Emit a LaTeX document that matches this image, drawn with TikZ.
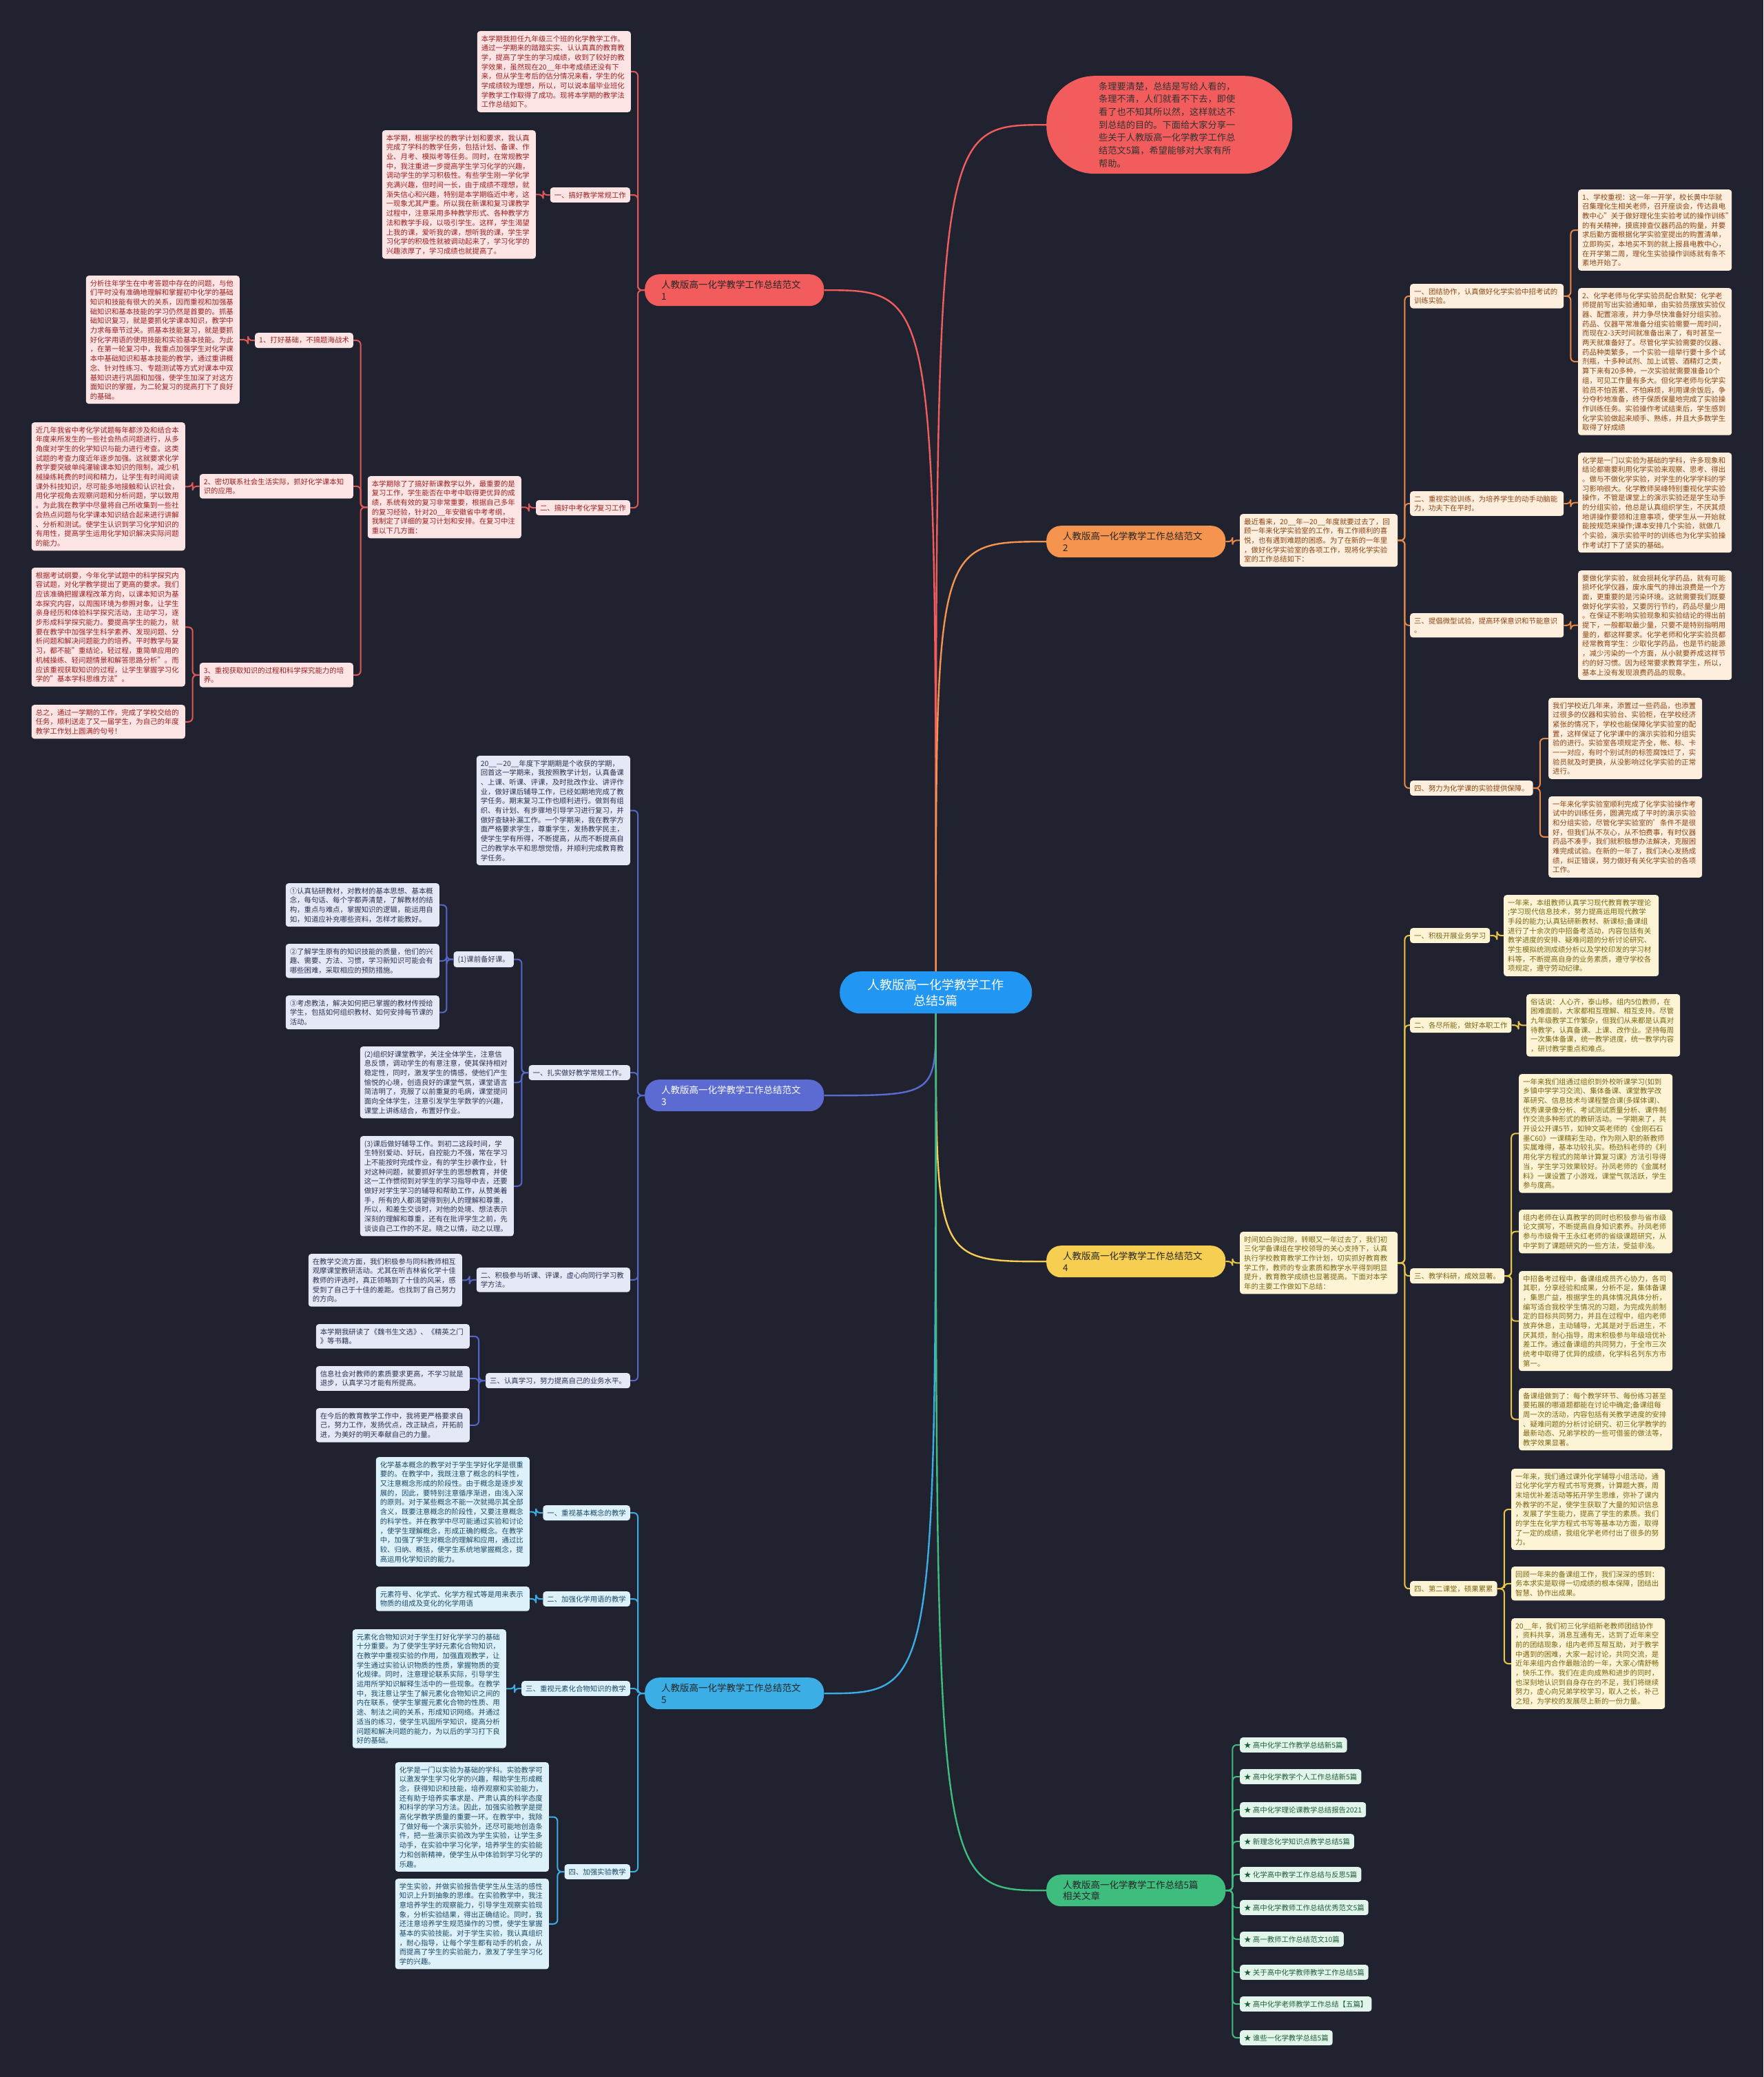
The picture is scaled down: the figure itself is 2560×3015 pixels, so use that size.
\documentclass[tikz,border=0pt]{standalone}
\usepackage{fontspec}
\setmainfont{Noto Sans CJK SC}
\definecolor{bg}{HTML}{20232F}
\definecolor{rN}{HTML}{F25C5C}\definecolor{rL}{HTML}{E25858}\definecolor{rF}{HTML}{FDE4E4}\definecolor{rT}{HTML}{9E1F1F}
\definecolor{oN}{HTML}{F5944F}\definecolor{oL}{HTML}{E8894A}\definecolor{oF}{HTML}{FEEEDD}\definecolor{oT}{HTML}{8B4513}
\definecolor{iN}{HTML}{5C6BD1}\definecolor{iL}{HTML}{5567C9}\definecolor{iF}{HTML}{E5E8F7}\definecolor{iT}{HTML}{2D3250}
\definecolor{yN}{HTML}{F5CE52}\definecolor{yL}{HTML}{EBC546}\definecolor{yF}{HTML}{FCF4D5}\definecolor{yT}{HTML}{7D6510}
\definecolor{bN}{HTML}{3AAEE5}\definecolor{bL}{HTML}{3AAEE5}\definecolor{bF}{HTML}{DDF1FB}\definecolor{bT}{HTML}{1B4A66}
\definecolor{gN}{HTML}{3EBD7F}\definecolor{gL}{HTML}{3EBD7F}\definecolor{gF}{HTML}{E1F5EA}\definecolor{gT}{HTML}{1E5E3A}
\definecolor{cN}{HTML}{2196F3}
\newcommand\LC[3]{\draw[#1] (#2.west) -- ++(-10,0) |- (#3.east);}
\newcommand\RC[3]{\draw[#1] (#2.east) -- ++(10,0) |- (#3.west);}
\tikzset{
  x=1pt,y=-1pt,
  txt/.style={align=left,inner xsep=6pt,inner ysep=6pt,rounded corners=4pt,font=\fontsize{10.4}{13.7}\selectfont},
  wide/.style={text width=211pt},
  lft/.style={txt,anchor=north east},
  rgt/.style={txt,anchor=north west},
  rbox/.style={fill=rF,text=rT},
  obox/.style={fill=oF,text=oT},
  ibox/.style={fill=iF,text=iT},
  ybox/.style={fill=yF,text=yT},
  bbox/.style={fill=bF,text=bT},
  gbox/.style={fill=gF,text=gT},
  br/.style={anchor=north west,align=left,text width=212pt,inner xsep=24pt,minimum height=46pt,rounded corners=21pt,font=\fontsize{13.5}{16.5}\selectfont},
  con/.style={line width=2pt,rounded corners=6pt},
  main/.style={line width=2.4pt},
}
\begin{document}
\begin{tikzpicture}
\useasboundingbox[fill=bg] (0,0) rectangle (2560,3015);

% ---------- center and intro ----------
\node[anchor=north west,fill=cN,text=white,align=center,minimum width=279pt,minimum height=61pt,rounded corners=30pt,font=\fontsize{18}{23}\selectfont] (c) at (1219,1410) {人教版高一化学教学工作\\总结5篇};
\node[anchor=north west,fill=rN,text=black!80,align=left,text width=205pt,inner xsep=76pt,minimum height=142pt,rounded corners=70pt,font=\fontsize{13.2}{18.7}\selectfont] (intro) at (1519,110) {条理要清楚，总结是写给人看的，\\条理不清，人们就看不下去，即使\\看了也不知其所以然，这样就达不\\到总结的目的。下面给大家分享一\\些关于人教版高一化学教学工作总\\结范文5篇，希望能够对大家有所\\帮助。};

% ---------- branch nodes ----------
\node[br,fill=rN,text=black!85] (b1) at (936,398) {人教版高一化学教学工作总结范文\\1};
\node[br,fill=oN,text=black!85] (b2) at (1519,763) {人教版高一化学教学工作总结范文\\2};
\node[br,fill=iN,text=white] (b3) at (936,1567) {人教版高一化学教学工作总结范文\\3};
\node[br,fill=yN,text=black!85] (b4) at (1519,1808) {人教版高一化学教学工作总结范文\\4};
\node[br,fill=bN,text=black!85] (b5) at (936,2435) {人教版高一化学教学工作总结范文\\5};
\node[br,fill=gN,text=black!85] (b6) at (1519,2721) {人教版高一化学教学工作总结5篇\\相关文章};

\draw[main,rN] (c.north) .. controls (c.north |- intro.west) and (c.north |- intro.west) .. (intro.west);
\draw[main,rN] (c.north) .. controls (c.north |- b1.east) and (c.north |- b1.east) .. (b1.east);
\draw[main,oN] (c.north) .. controls (c.north |- b2.west) and (c.north |- b2.west) .. (b2.west);
\draw[main,iN] (c.south) .. controls (c.south |- b3.east) and (c.south |- b3.east) .. (b3.east);
\draw[main,yN] (c.south) .. controls (c.south |- b4.west) and (c.south |- b4.west) .. (b4.west);
\draw[main,bN] (c.south) .. controls (c.south |- b5.east) and (c.south |- b5.east) .. (b5.east);
\draw[main,gN] (c.south) .. controls (c.south |- b6.west) and (c.south |- b6.west) .. (b6.west);

% ---------- branch 1 ----------
\node[lft,wide,rbox] (a1) at (916,45) {本学期我担任九年级三个班的化学教学工作。\\通过一学期来的踏踏实实、认认真真的教育教\\学，提高了学生的学习成绩，收到了较好的教\\学效果，虽然现在20\_\_年中考成绩还没有下\\来，但从学生考后的估分情况来看，学生的化\\学成绩较为理想，所以，可以说本届毕业班化\\学教学工作取得了成功。现将本学期的教学法\\工作总结如下。};
\node[lft,rbox] (l11) at (915,272) {一、搞好教学常规工作};
\node[lft,wide,rbox] (a2) at (778,189) {本学期，根据学校的教学计划和要求，我认真\\完成了学科的教学任务，包括计划、备课、作\\业、月考、模拟考等任务。同时，在常规教学\\中，我注重进一步提高学生学习化学的兴趣，\\调动学生的学习积极性。有些学生刚一学化学\\充满兴趣，但时间一长，由于成绩不理想，就\\渐失信心和兴趣，特别是本学期临近中考，这\\一现象尤其严重。所以我在新课和复习课教学\\过程中，注意采用多种教学形式、各种教学方\\法和教学手段，以吸引学生。这样，学生渴望\\上我的课，爱听我的课，想听我的课，学生学\\习化学的积极性就被调动起来了，学习化学的\\兴趣浓厚了，学习成绩也就提高了。};
\node[lft,rbox] (l12) at (915,726) {二、搞好中考化学复习工作};
\node[lft,wide,rbox] (a3) at (757,691) {本学期除了了搞好新课教学以外，最重要的是\\复习工作，学生能否在中考中取得更优异的成\\绩，系统有效的复习非常重要，根据自己多年\\的复习经验，针对20\_\_年安徽省中考考纲，\\我制定了详细的复习计划和安排。在复习中注\\重以下几方面：};
\node[lft,rbox] (l121) at (513,483) {1、打好基础，不搞题海战术};
\node[lft,wide,rbox] (a4) at (348,400) {分析往年学生在中考答题中存在的问题，与他\\们平时没有准确地理解和掌握初中化学的基础\\知识和技能有很大的关系，因而重视和加强基\\础知识和基本技能的学习仍然是首要的。抓基\\础知识复习，就是要抓化学课本知识，教学中\\力求每章节过关。抓基本技能复习，就是要抓\\好化学用语的使用技能和实验基本技能。为此\\，在第一轮复习中，我重点加强学生对化学课\\本中基础知识和基本技能的教学，通过重讲概\\念、针对性练习、专题测试等方式对课本中双\\基知识进行巩固和加强，使学生加深了对这方\\面知识的掌握，为二轮复习的提高打下了良好\\的基础。};
\node[lft,wide,rbox] (l122) at (513,688) {2、密切联系社会生活实际，抓好化学课本知\\识的应用。};
\node[lft,wide,rbox] (a5) at (269,613) {近几年我省中考化学试题每年都涉及和结合本\\年度来所发生的一些社会热点问题进行，从多\\角度对学生的化学知识与能力进行考查。这类\\试题的考查力度近年逐步加强。这就要求化学\\教学要突破单纯灌输课本知识的限制，减少机\\械操练耗费的时间和精力，让学生有时间阅读\\课外科技知识，尽可能多地接触和认识社会，\\用化学视角去观察问题和分析问题，学以致用\\。为此我在教学中尽量将自己所收集到一些社\\会热点问题与化学课本知识结合起来进行讲解\\、分析和测试。使学生认识到学习化学知识的\\有用性，提高学生运用化学知识解决实际问题\\的能力。};
\node[lft,wide,rbox] (l123) at (513,962) {3、重视获取知识的过程和科学探究能力的培\\养。};
\node[lft,wide,rbox] (a6) at (269,824) {根据考试纲要，今年化学试题中的科学探究内\\容试题，对化学教学提出了更高的要求。我们\\应该准确把握课程改革方向，以课本知识为基\\本探究内容，以周围环境为参照对象，让学生\\亲身经历和体验科学探究活动，主动学习，逐\\步形成科学探究能力。要提高学生的能力，就\\要在教学中加强学生科学素养、发现问题、分\\析问题和解决问题能力的培养。平时教学与复\\习，都不能"重结论，轻过程，重简单应用的\\机械操练、轻问题情景和解答思路分析"。而\\应该重视获取知识的过程，让学生掌握学习化\\学的"基本学科思维方法"。};
\node[lft,wide,rbox] (a7) at (269,1023) {总之，通过一学期的工作，完成了学校交给的\\任务，顺利送走了又一届学生，为自己的年度\\教学工作划上圆满的句号！};

\LC{con,rL}{b1}{a1}\LC{con,rL}{b1}{l11}\LC{con,rL}{b1}{l12}
\LC{con,rL}{l11}{a2}\LC{con,rL}{l12}{a3}
\LC{con,rL}{a3}{l121}\LC{con,rL}{a3}{l122}\LC{con,rL}{a3}{l123}
\LC{con,rL}{l121}{a4}\LC{con,rL}{l122}{a5}
\LC{con,rL}{l123}{a6}\LC{con,rL}{l123}{a7}

% ---------- branch 2 ----------
\node[rgt,text width=217pt,obox] (o0) at (1800,746) {最近看来，20\_\_年—20\_\_年度就要过去了，回\\顾一年来化学实验室的工作，有工作顺利的喜\\悦，也有遇到难题的困惑。为了在新的一年里\\，做好化学实验室的各项工作，现将化学实验\\室的工作总结如下：};
\node[rgt,wide,obox] (o1) at (2047,412) {一、团结协作，认真做好化学实验中招考试的\\训练实验。};
\node[rgt,wide,obox] (o11) at (2291,275) {1、学校重视：这一年一开学，校长黄中华就\\召集理化生相关老师，召开座谈会，传达县电\\教中心"关于做好理化生实验考试的操作训练"\\的有关精神，摸底排查仪器药品的购量，并要\\求后勤方面根据化学实验室提出的购置清单，\\立即购买，本地买不到的就上报县电教中心，\\在开学第二周，理化生实验操作训练就有条不\\紊地开始了。};
\node[rgt,wide,obox] (o12) at (2291,418) {2、化学老师与化学实验员配合默契：化学老\\师提前写出实验通知单，由实验员摆放实验仪\\器、配置溶液，并力争尽快准备好分组实验。\\药品、仪器平常准备分组实验需要一周时间，\\而现在2-3天时间就准备出来了，有时甚至一\\两天就准备好了。尽管化学实验需要的仪器、\\药品种类繁多，一个实验一组举行要十多个试\\剂瓶，十多种试剂、加上试管、酒精灯之类，\\算下来有20多种，一次实验就需要准备10个\\组，可见工作量有多大。但化学老师与化学实\\验员不怕苦累、不怕麻烦，利用课余饭后，争\\分夺秒地准备，终于保质保量地完成了实验操\\作训练任务。实验操作考试结束后，学生感到\\化学实验做起来顺手、熟练，并且大多数学生\\取得了好成绩};
\node[rgt,wide,obox] (o2) at (2047,713) {二、重视实验训练，为培养学生的动手动脑能\\力，功夫下在平时。};
\node[rgt,wide,obox] (o21) at (2291,657) {化学是一门以实验为基础的学科，许多现象和\\结论都需要利用化学实验来观察、思考、得出\\。做与不做化学实验，对学生的化学学科的学\\习影响很大。化学教师吴峰特别重视化学实验\\操作，不管是课堂上的演示实验还是学生动手\\的分组实验，他总是认真组织学生，不厌其烦\\地讲操作要领和注意事项，使学生从一开始就\\能按规范来操作;课本安排几个实验，就做几\\个实验，演示实验平时的训练也为化学实验操\\作考试打下了坚实的基础。};
\node[rgt,wide,obox] (o3) at (2047,890) {三、提倡微型试验，提高环保意识和节能意识\\。};
\node[rgt,wide,obox] (o31) at (2291,828) {要做化学实验，就会损耗化学药品，就有可能\\损坏化学仪器，废水废气的排出浪费是一个方\\面，更重要的是污染环境。这就需要我们既要\\做好化学实验，又要厉行节约，药品尽量少用\\。在保证不影响实验现象和实验结论的得出前\\提下，一般都取最少量，只要不是特别指明用\\量的，都这样要求。化学老师和化学实验员都\\经常教育学生：少取化学药品，也是节约能源\\，减少污染的一个方面，从小就要养成这样节\\约的好习惯。因为经常要求教育学生，所以，\\基本上没有发现浪费药品的现象。};
\node[rgt,obox] (o4) at (2047,1133) {四、努力为化学课的实验提供保障。};
\node[rgt,wide,obox] (o41) at (2248,1013) {我们学校近几年来，添置过一些药品，也添置\\过很多的仪器和实验台、实验柜，在学校经济\\紧张的情况下，学校也能保障化学实验室的配\\置，这样保证了化学课中的演示实验和分组实\\验的进行。实验室各项规定齐全，帐、标、卡\\一一对应，有时个别试剂的标签腐蚀烂了，实\\验员就及时更换，从没影响过化学实验的正常\\进行。};
\node[rgt,wide,obox] (o42) at (2248,1156) {一年来化学实验室顺利完成了化学实验操作考\\试中的训练任务，圆满完成了平时的演示实验\\和分组实验，尽管化学实验室的'条件不是很\\好，但我们从不灰心，从不怕费事，有时仪器\\药品不凑手，我们就积极想办法解决，克服困\\难完成试验。在新的一年了，我们决心发扬成\\绩，纠正错误，努力做好有关化学实验的各项\\工作。};

\RC{con,oL}{b2}{o0}
\RC{con,oL}{o0}{o1}\RC{con,oL}{o0}{o2}\RC{con,oL}{o0}{o3}\RC{con,oL}{o0}{o4}
\RC{con,oL}{o1}{o11}\RC{con,oL}{o1}{o12}
\RC{con,oL}{o2}{o21}\RC{con,oL}{o3}{o31}
\RC{con,oL}{o4}{o41}\RC{con,oL}{o4}{o42}

% ---------- branch 3 ----------
\node[lft,wide,ibox] (i0) at (915,1097) {20\_\_—20\_\_年度下学期期是个收获的学期，\\回首这一学期来，我按照教学计划，认真备课\\、上课、听课、评课，及时批改作业、讲评作\\业，做好课后辅导工作，已经如期地完成了教\\学任务。期末复习工作也顺利进行。做到有组\\织、有计划、有步骤地引导学习进行复习，并\\做好查缺补漏工作。一个学期来，我在教学方\\面严格要求学生，尊重学生，发扬教学民主，\\使学生学有所得，不断提高，从而不断提高自\\己的教学水平和思想觉悟，并顺利完成教育教\\学任务。};
\node[lft,ibox] (i1) at (915,1546) {一、扎实做好教学常规工作。};
\node[lft,ibox] (i11) at (746,1381) {(1)课前备好课。};
\node[lft,wide,ibox] (i111) at (638,1282) {①认真钻研教材，对教材的基本思想、基本概\\念，每句话、每个字都弄清楚，了解教材的结\\构，重点与难点，掌握知识的逻辑，能运用自\\如，知道应补充哪些资料，怎样才能教好。};
\node[lft,wide,ibox] (i112) at (638,1370) {②了解学生原有的知识技能的质量，他们的兴\\趣、需要、方法、习惯，学习新知识可能会有\\哪些困难，采取相应的预防措施。};
\node[lft,wide,ibox] (i113) at (638,1445) {③考虑教法，解决如何把已掌握的教材传授给\\学生，包括如何组织教材、如何安排每节课的\\活动。};
\node[lft,wide,ibox] (i12) at (746,1519) {(2)组织好课堂教学，关注全体学生，注意信\\息反馈，调动学生的有意注意，使其保持相对\\稳定性，同时，激发学生的情感，使他们产生\\愉悦的心境，创造良好的课堂气氛，课堂语言\\简洁明了，克服了以前重复的毛病，课堂提问\\面向全体学生，注意引发学生学数学的兴趣，\\课堂上讲练结合，布置好作业。};
\node[lft,wide,ibox] (i13) at (746,1649) {(3)课后做好辅导工作。到初二这段时间，学\\生特别爱动、好玩，自控能力不强，常在学习\\上不能按时完成作业，有的学生抄袭作业，针\\对这种问题，就要抓好学生的思想教育，并使\\这一工作惯彻到对学生的学习指导中去，还要\\做好对学生学习的辅导和帮助工作，从赞美着\\手，所有的人都渴望得到别人的理解和尊重，\\所以，和差生交谈时，对他的处境、想法表示\\深刻的理解和尊重，还有在批评学生之前，先\\谈谈自己工作的不足。晓之以情，动之以理。};
\node[lft,wide,ibox] (i2) at (915,1840) {二、积极参与听课、评课，虚心向同行学习教\\学方法。};
\node[lft,wide,ibox] (i21) at (671,1820) {在教学交流方面，我们积极参与同科教师相互\\观摩课堂教研活动。尤其在听吉林省化学十佳\\教师的评选时，真正领略到了十佳的风采，感\\受到了自己于十佳的差距。也找到了自己努力\\的方向。};
\node[lft,ibox] (i3) at (915,1993) {三、认真学习，努力提高自己的业务水平。};
\node[lft,wide,ibox] (i31) at (682,1922) {本学期我研读了《魏书生文选》、《精英之门\\》等书籍。};
\node[lft,wide,ibox] (i32) at (682,1983) {信息社会对教师的素质要求更高，不学习就是\\退步，认真学习才能有所提高。};
\node[lft,wide,ibox] (i33) at (682,2044) {在今后的教育教学工作中，我将更严格要求自\\己，努力工作，发扬优点，改正缺点，开拓前\\进，为美好的明天奉献自己的力量。};

\LC{con,iL}{b3}{i0}\LC{con,iL}{b3}{i1}\LC{con,iL}{b3}{i2}\LC{con,iL}{b3}{i3}
\LC{con,iL}{i1}{i11}\LC{con,iL}{i1}{i12}\LC{con,iL}{i1}{i13}
\LC{con,iL}{i11}{i111}\LC{con,iL}{i11}{i112}\LC{con,iL}{i11}{i113}
\LC{con,iL}{i2}{i21}
\LC{con,iL}{i3}{i31}\LC{con,iL}{i3}{i32}\LC{con,iL}{i3}{i33}

% ---------- branch 4 ----------
\node[rgt,text width=217pt,ybox] (y0) at (1800,1788) {时间如白驹过隙，转眼又一年过去了，我们初\\三化学备课组在学校领导的关心支持下，认真\\执行学校教育教学工作计划，切实抓好教育教\\学工作，教师的专业素质和教学水平得到明显\\提升，教育教学成绩也显著提高。下面对本学\\年的主要工作做如下总结：};
\node[rgt,ybox] (y1) at (2047,1347) {一、积极开展业务学习};
\node[rgt,text width=213pt,ybox] (y11) at (2183,1299) {一年来，本组教师认真学习现代教育教学理论\\;学习现代信息技术，努力提高运用现代教学\\手段的能力;认真钻研新教材、新课标;备课组\\进行了十余次的中招备考活动，内容包括有关\\教学进度的安排、疑难问题的分析讨论研究、\\学生模拟统测成绩分析以及学校印发的学习材\\料等，不断提高自身的业务素质，遵守学校各\\项规定，遵守劳动纪律。};
\node[rgt,ybox] (y2) at (2047,1477) {二、各尽所能，做好本职工作};
\node[rgt,wide,ybox] (y21) at (2216,1443) {俗话说：人心齐，泰山移。组内5位教师，在\\困难面前，大家都相互理解、相互支持。尽管\\九年级教学工作繁杂，但我们从来都是认真对\\待教学，认真备课、上课、改作业。坚持每周\\一次集体备课，统一教学进度，统一教学内容\\，研讨教学重点和难点。};
\node[rgt,ybox] (y3) at (2047,1841) {三、教学科研，成效显著。};
\node[rgt,wide,ybox] (y31) at (2205,1559) {一年来我们组通过组织到外校听课学习(如到\\乡镇中学学习交流)、集体备课、课堂教学改\\革研究、信息技术与课程整合课(多媒体课)、\\优秀课录像分析、考试测试质量分析、课件制\\作交流多种形式的教研活动。一学期来了，共\\开设公开课5节，如钟文英老师的《金刚石石\\墨C60》一课精彩生动，作为刚入职的新教师\\实属难得，基本功较扎实。杨劲科老师的《利\\用化学方程式的简单计算复习课》方法引导得\\当，学生学习效果较好。孙凤老师的《金属材\\料》一课设置了小游戏，课堂气氛活跃，学生\\参与度高。};
\node[rgt,wide,ybox] (y32) at (2205,1756) {组内老师在认真教学的同时也积极参与省市级\\论文撰写，不断提高自身知识素养。孙凤老师\\参与市级骨干王永红老师的省级课题研究，从\\中学到了课题研究的一些方法，受益非浅。};
\node[rgt,wide,ybox] (y33) at (2205,1845) {中招备考过程中，备课组成员齐心协力，各司\\其职，分享经验和成果，分析不足，集体备课\\，集思广益，根据学生的具体情况具体分析，\\编写适合我校学生情况的习题，为完成先前制\\定的目标共同努力，并且在过程中，组内老师\\放弃休息，主动辅导，尤其是对于后进生，不\\厌其烦，耐心指导，周末积极参与年级培优补\\差工作。通过备课组的共同努力，于全市三次\\统考中取得了优异的成绩，化学科名列东方市\\第一。};
\node[rgt,wide,ybox] (y34) at (2205,2015) {备课组做到了：每个教学环节、每份练习甚至\\要拓展的哪道题都能在讨论中确定;备课组每\\周一次的活动，内容包括有关教学进度的安排\\、疑难问题的分析讨论研究、初三化学教学的\\最新动态、兄弟学校的一些可借鉴的做法等，\\教学效果显著。};
\node[rgt,ybox] (y4) at (2047,2295) {四、第二课堂，硕果累累};
\node[rgt,wide,ybox] (y41) at (2194,2132) {一年来，我们通过课外化学辅导小组活动，通\\过化学化学方程式书写竞赛，计算题大赛，周\\末培优补差活动等拓开学生思维，弥补了课内\\外教学的不足，使学生获取了大量的知识信息\\，发展了学生能力，提高了学生的素质。我们\\的学生在化学方程式书写等基本功方面，取得\\了一定的成绩，我组化学老师付出了很多的努\\力。};
\node[rgt,wide,ybox] (y42) at (2194,2274) {回顾一年来的备课组工作，我们深深的感到：\\务本求实是取得一切成绩的根本保障，团结出\\智慧、协作出成果。};
\node[rgt,wide,ybox] (y43) at (2194,2349) {20\_\_年，我们初三化学组新老教师团结协作\\，资料共享，消息互通有无，达到了近年来空\\前的团结现象，组内老师互帮互助，对于教学\\中遇到的困难，大家一起讨论，共同交流，是\\近年来组内合作最融洽的一年，大家心情舒畅\\，快乐工作。我们在走向成熟和进步的同时，\\也深刻地认识到自身存在的不足，我们将继续\\努力，虚心向兄弟学校学习，取人之长，补己\\之短，为学校的发展尽上新的一份力量。};

\RC{con,yL}{b4}{y0}
\RC{con,yL}{y0}{y1}\RC{con,yL}{y0}{y2}\RC{con,yL}{y0}{y3}\RC{con,yL}{y0}{y4}
\RC{con,yL}{y1}{y11}\RC{con,yL}{y2}{y21}
\RC{con,yL}{y3}{y31}\RC{con,yL}{y3}{y32}\RC{con,yL}{y3}{y33}\RC{con,yL}{y3}{y34}
\RC{con,yL}{y4}{y41}\RC{con,yL}{y4}{y42}\RC{con,yL}{y4}{y43}

% ---------- branch 5 ----------
\node[lft,bbox] (e1) at (915,2185) {一、重视基本概念的教学};
\node[lft,wide,bbox] (e11) at (769,2115) {化学基本概念的教学对于学生学好化学是很重\\要的。在教学中，我既注意了概念的科学性，\\又注意概念形成的阶段性。由于概念是逐步发\\展的，因此，要特别注意循序渐进，由浅入深\\的原则。对于某些概念不能一次就揭示其全部\\含义，既要注意概念的阶段性，又要注意概念\\的科学性。并在教学中尽可能通过实验和讨论\\，使学生理解概念，形成正确的概念。在教学\\中，加强了学生对概念的理解和应用，通过比\\较、归纳、概括，使学生系统地掌握概念，提\\高运用化学知识的能力。};
\node[lft,bbox] (e2) at (915,2310) {二、加强化学用语的教学};
\node[lft,wide,bbox] (e21) at (769,2303) {元素符号、化学式、化学方程式等是用来表示\\物质的组成及变化的化学用语};
\node[lft,bbox] (e3) at (915,2440) {三、重视元素化合物知识的教学};
\node[lft,wide,bbox] (e31) at (735,2365) {元素化合物知识对于学生打好化学学习的基础\\十分重要。为了使学生学好元素化合物知识，\\在教学中重视实验的作用，加强直观教学，让\\学生通过实验认识物质的性质，掌握物质的变\\化规律。同时，注意理论联系实际，引导学生\\运用所学知识解释生活中的一些现象。在教学\\中，我注意让学生了解元素化合物知识之间的\\内在联系，使学生掌握元素化合物的性质、用\\途、制法之间的关系，形成知识网络。并通过\\适当的练习，使学生巩固所学知识，提高分析\\问题和解决问题的能力，为以后的学习打下良\\好的基础。};
\node[lft,bbox] (e4) at (915,2706) {四、加强实验教学};
\node[lft,wide,bbox] (e41) at (797,2558) {化学是一门以实验为基础的学科。实验教学可\\以激发学生学习化学的兴趣，帮助学生形成概\\念，获得知识和技能，培养观察和实验能力，\\还有助于培养实事求是、严肃认真的科学态度\\和科学的学习方法。因此，加强实验教学是提\\高化学教学质量的重要一环。在教学中，我除\\了做好每一个演示实验外，还尽可能地创造条\\件，把一些演示实验改为学生实验，让学生多\\动手，在实验中学习化学，培养学生的实验能\\力和创新精神，使学生从中体验到学习化学的\\乐趣。};
\node[lft,wide,bbox] (e42) at (797,2727) {学生实验，并做实验报告使学生从生活的感性\\知识上升到抽象的思维。在实验教学中，我注\\意培养学生的观察能力，引导学生观察实验现\\象，分析实验结果，得出正确结论。同时，我\\还注意培养学生规范操作的习惯，使学生掌握\\基本的实验技能。对于学生实验，我认真组织\\，耐心指导，让每个学生都有动手的机会，从\\而提高了学生的实验能力，激发了学生学习化\\学的兴趣。};

\LC{con,bL}{b5}{e1}\LC{con,bL}{b5}{e2}\LC{con,bL}{b5}{e3}\LC{con,bL}{b5}{e4}
\LC{con,bL}{e1}{e11}\LC{con,bL}{e2}{e21}\LC{con,bL}{e3}{e31}
\LC{con,bL}{e4}{e41}\LC{con,bL}{e4}{e42}

% ---------- branch 6 ----------
\node[rgt,gbox] (g1) at (1800,2522) {★ 高中化学工作教学总结新5篇};
\node[rgt,gbox] (g2) at (1800,2568) {★ 高中化学教学个人工作总结新5篇};
\node[rgt,gbox] (g3) at (1800,2616) {★ 高中化学理论课教学总结报告2021};
\node[rgt,gbox] (g4) at (1800,2662) {★ 新理念化学知识点教学总结5篇};
\node[rgt,gbox] (g5) at (1800,2710) {★ 化学高中教学工作总结与反思5篇};
\node[rgt,gbox] (g6) at (1800,2758) {★ 高中化学教师工作总结优秀范文5篇};
\node[rgt,gbox] (g7) at (1800,2804) {★ 高一教师工作总结范文10篇};
\node[rgt,gbox] (g8) at (1800,2852) {★ 关于高中化学教师教学工作总结5篇};
\node[rgt,gbox] (g9) at (1800,2898) {★ 高中化学老师教学工作总结【五篇】};
\node[rgt,gbox] (g10) at (1800,2947) {★ 谁些一化学教学总结5篇};
\foreach \k in {1,...,10} {\RC{con,gL}{b6}{g\k}}
\end{tikzpicture}
\end{document}
